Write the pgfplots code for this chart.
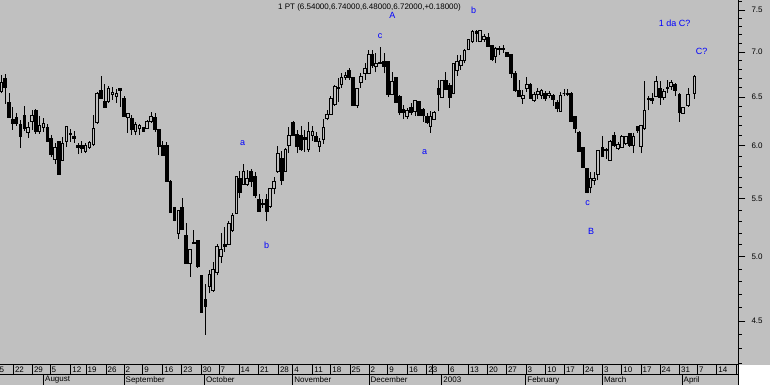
\documentclass[border=0pt]{standalone}
\usepackage{pgfplots}
\pgfplotsset{compat=1.18}
\usepackage{pgfplotstable}
\usepackage{fontspec}
\setmainfont{Liberation Sans}
\definecolor{bgc}{RGB}{192,192,192}
\definecolor{annot}{RGB}{0,0,255}
\newcommand{\smallf}{\fontsize{8bp}{9bp}\selectfont}
\newcommand{\annf}{\fontsize{9bp}{10bp}\selectfont}

% daily candles: x = position on the time axis, open, high, low, close
\pgfplotstableread{
x o h l c
1.3 6.56 6.74 6.54 6.66
5.1 6.70 6.75 6.43 6.60
9.0 6.44 6.54 6.29 6.29
12.8 6.27 6.40 6.16 6.22
16.6 6.29 6.33 6.20 6.22
20.5 6.21 6.26 5.98 6.09
24.3 6.31 6.41 6.15 6.17
28.1 6.13 6.24 6.08 6.18
32.0 6.24 6.36 6.16 6.31
35.8 6.36 6.37 6.12 6.14
39.6 6.14 6.30 6.12 6.20
43.5 6.18 6.28 6.14 6.22
47.3 6.18 6.22 6.04 6.04
51.1 6.07 6.11 5.89 5.92
55.0 5.87 6.03 5.82 5.98
58.8 6.04 6.05 5.72 5.72
62.6 5.86 6.09 5.86 6.02
66.5 6.04 6.19 5.99 6.19
70.3 6.12 6.17 6.04 6.11
74.1 6.09 6.15 6.03 6.07
78.0 6.00 6.03 5.92 5.98
81.8 6.00 6.05 5.93 5.97
85.6 5.94 6.03 5.93 6.00
89.5 5.98 6.05 5.97 6.03
93.3 6.01 6.31 6.00 6.17
97.1 6.23 6.55 6.22 6.54
101.0 6.57 6.73 6.49 6.49
104.8 6.45 6.64 6.39 6.39
108.6 6.45 6.62 6.44 6.59
112.5 6.53 6.61 6.47 6.55
116.3 6.51 6.59 6.44 6.54
120.1 6.59 6.59 6.40 6.57
124.0 6.48 6.51 6.30 6.30
127.9 6.29 6.33 6.13 6.33
131.7 6.28 6.31 6.11 6.16
135.6 6.14 6.24 6.11 6.21
139.5 6.17 6.22 6.11 6.20
143.4 6.18 6.19 6.14 6.14
147.2 6.17 6.26 6.17 6.24
151.1 6.24 6.34 6.23 6.30
155.0 6.29 6.33 6.14 6.16
158.9 6.16 6.16 5.91 5.99
162.8 6.00 6.05 5.91 5.91
166.7 6.00 6.04 5.66 5.66
170.6 5.66 5.67 5.38 5.38
174.5 5.42 5.43 5.30 5.31
178.3 5.20 5.40 5.15 5.40
182.2 5.42 5.51 5.23 5.23
186.1 5.18 5.29 4.95 4.95
190.0 4.95 5.06 4.84 5.06
193.8 5.12 5.23 5.11 5.11
197.7 5.14 5.14 4.91 4.92
201.6 4.85 4.85 4.56 4.56
205.5 4.66 4.78 4.40 4.61
209.4 4.76 4.89 4.71 4.86
213.2 4.73 4.96 4.72 4.90
217.1 4.87 5.11 4.85 5.09
221.0 5.00 5.20 4.95 5.06
224.9 5.10 5.25 5.04 5.09
228.8 5.10 5.30 5.10 5.28
232.6 5.22 5.37 5.21 5.35
236.5 5.37 5.71 5.37 5.71
239.7 5.69 5.76 5.51 5.56
243.3 5.63 5.82 5.63 5.75
247.0 5.63 5.77 5.62 5.69
251.0 5.75 5.78 5.61 5.66
255.0 5.71 5.75 5.51 5.53
259.0 5.49 5.54 5.39 5.39
262.7 5.46 5.50 5.42 5.45
266.7 5.49 5.54 5.30 5.39
270.0 5.43 5.60 5.42 5.59
274.0 5.59 5.70 5.54 5.66
277.7 5.75 6.00 5.74 5.93
281.7 5.88 5.95 5.63 5.67
285.3 5.75 5.98 5.75 5.96
288.7 6.00 6.19 5.93 6.10
293.0 6.23 6.25 6.10 6.10
297.0 6.11 6.16 5.93 5.99
301.0 6.10 6.20 5.95 5.96
304.7 6.08 6.16 5.94 6.06
308.3 5.96 6.24 5.94 6.14
312.3 6.10 6.20 6.05 6.14
316.0 6.09 6.14 6.04 6.04
319.3 5.99 6.08 5.94 6.04
323.3 6.06 6.27 6.02 6.18
327.0 6.28 6.36 6.26 6.32
330.7 6.32 6.51 6.31 6.49
334.7 6.42 6.63 6.41 6.61
338.0 6.60 6.71 6.45 6.59
341.3 6.64 6.76 6.60 6.71
345.3 6.71 6.77 6.69 6.74
349.0 6.79 6.82 6.69 6.71
353.0 6.71 6.71 6.41 6.41
357.0 6.41 6.60 6.39 6.59
360.7 6.66 6.76 6.60 6.72
365.0 6.76 6.88 6.69 6.81
368.7 6.76 7.02 6.76 6.97
372.0 6.97 7.02 6.82 6.85
375.7 6.83 6.99 6.77 6.87
380.0 6.88 7.06 6.87 6.87
384.0 6.89 6.99 6.76 6.83
388.0 6.89 6.90 6.50 6.53
392.0 6.53 6.77 6.52 6.67
396.0 6.71 6.71 6.44 6.44
399.7 6.51 6.52 6.31 6.34
403.5 6.37 6.42 6.27 6.34
407.0 6.30 6.38 6.27 6.36
411.0 6.39 6.44 6.31 6.34
415.0 6.35 6.47 6.30 6.46
418.7 6.45 6.46 6.30 6.31
423.0 6.37 6.38 6.24 6.31
427.0 6.30 6.33 6.22 6.23
430.3 6.19 6.35 6.13 6.30
434.0 6.27 6.35 6.26 6.34
438.3 6.59 6.69 6.35 6.53
442.0 6.50 6.69 6.49 6.68
445.7 6.68 6.77 6.58 6.58
449.7 6.63 6.65 6.39 6.50
453.3 6.54 6.88 6.53 6.87
457.0 6.79 6.97 6.73 6.89
460.7 6.85 6.96 6.80 6.90
464.3 6.90 7.03 6.87 7.02
468.3 7.03 7.15 7.02 7.14
472.3 7.12 7.26 7.11 7.24
476.3 7.24 7.26 7.12 7.22
480.0 7.12 7.26 7.12 7.25
484.0 7.15 7.21 7.12 7.18
488.0 7.17 7.22 7.06 7.06
492.0 7.08 7.08 6.90 6.91
495.5 6.95 7.06 6.87 7.04
499.0 7.04 7.07 6.97 7.03
503.0 7.03 7.08 6.99 7.04
507.0 6.99 7.00 6.94 6.95
511.0 6.97 6.97 6.71 6.76
515.0 6.76 6.78 6.56 6.57
519.0 6.57 6.69 6.50 6.51
522.7 6.49 6.58 6.43 6.52
526.7 6.59 6.72 6.56 6.64
530.5 6.64 6.65 6.49 6.49
534.0 6.46 6.56 6.45 6.53
537.7 6.53 6.60 6.48 6.56
541.5 6.52 6.59 6.48 6.57
545.0 6.54 6.57 6.46 6.49
549.0 6.52 6.57 6.49 6.54
553.0 6.52 6.53 6.41 6.47
557.0 6.44 6.47 6.34 6.38
560.5 6.35 6.56 6.35 6.52
564.0 6.54 6.59 6.51 6.54
567.5 6.54 6.59 6.51 6.53
571.0 6.54 6.55 6.24 6.24
575.0 6.30 6.30 6.13 6.17
579.0 6.13 6.15 5.94 5.94
583.0 5.98 5.99 5.79 5.79
587.0 5.78 5.78 5.55 5.56
590.5 5.60 5.75 5.55 5.69
594.0 5.67 5.75 5.63 5.69
597.8 5.72 5.96 5.67 5.95
602.5 5.98 6.10 5.90 5.90
606.0 5.96 5.98 5.87 5.95
610.0 5.86 6.06 5.86 6.04
614.0 6.10 6.14 5.99 6.00
618.0 5.97 6.04 5.96 6.01
621.7 5.98 6.11 5.98 6.09
625.7 6.02 6.10 6.01 6.09
629.7 6.12 6.13 5.99 6.00
633.3 6.00 6.13 5.93 6.09
637.5 6.19 6.20 6.13 6.15
641.0 5.99 6.20 5.93 6.20
644.5 6.17 6.67 6.16 6.36
648.3 6.49 6.51 6.36 6.47
652.0 6.48 6.54 6.43 6.46
656.0 6.51 6.73 6.50 6.67
660.0 6.59 6.67 6.42 6.50
663.7 6.50 6.59 6.47 6.56
667.3 6.60 6.69 6.54 6.59
671.0 6.61 6.69 6.58 6.66
675.0 6.64 6.65 6.51 6.57
679.3 6.53 6.54 6.24 6.34
683.0 6.33 6.40 6.33 6.39
688.0 6.41 6.60 6.40 6.53
694.3 6.54 6.74 6.48 6.72
}\candles

\begin{document}
\begin{tikzpicture}[
  wick/.style={black, line width=1bp},
  body/.style={draw=black, line width=1bp, line join=miter},
]
\fill[bgc] (0bp,0bp) rectangle (770bp,385bp);
\fill[white] (738.3bp,0bp) rectangle (770bp,20bp);

\begin{axis}[
  at={(0bp,20bp)}, anchor=south west,
  width=738.3bp, height=365bp, scale only axis,
  xmin=0, xmax=738.3,
  ymode=log, ymin=4.187, ymax=7.625,
  axis x line*=bottom, axis y line*=right,
  axis line style={-, black, line width=1bp},
  xtick=\empty,
  ytick={4.5,5,5.5,6,6.5,7,7.5},
  yticklabels={4.5,5.0,5.5,6.0,6.5,7.0,7.5},
  minor ytick={4.2,4.3,4.4,4.6,4.7,4.8,4.9,5.1,5.2,5.3,5.4,5.6,5.7,5.8,5.9,6.1,6.2,6.3,6.4,6.6,6.7,6.8,6.9,7.1,7.2,7.3,7.4,7.6},
  tick align=outside,
  major tick length=7bp, minor tick length=3.5bp,
  tick style={black, line width=1bp},
  yticklabel style={font=\smallf, anchor=west, inner sep=0pt, xshift=6bp},
]
\pgfplotstablegetrowsof{\candles}
\pgfmathtruncatemacro{\nlast}{\pgfplotsretval-1}
\pgfplotsforeachungrouped \i in {0,...,\nlast}{%
  \pgfplotstablegetelem{\i}{x}\of\candles \let\cx\pgfplotsretval
  \pgfplotstablegetelem{\i}{o}\of\candles \let\co\pgfplotsretval
  \pgfplotstablegetelem{\i}{h}\of\candles \let\ch\pgfplotsretval
  \pgfplotstablegetelem{\i}{l}\of\candles \let\cl\pgfplotsretval
  \pgfplotstablegetelem{\i}{c}\of\candles \let\cc\pgfplotsretval
  \pgfmathparse{\cc<\co}%
  \ifdim\pgfmathresult pt>0.5pt \def\fc{black}\else\def\fc{bgc}\fi
  \pgfmathsetmacro\xa{\cx-1.3}%
  \pgfmathsetmacro\xb{\cx+1.3}%
  \edef\doit{%
    \noexpand\addplot[wick] coordinates {(\cx,\cl) (\cx,\ch)};
    \noexpand\addplot[body, fill=\fc] coordinates {(\xa,\co) (\xb,\co) (\xb,\cc) (\xa,\cc)} -- cycle;
  }\doit
}
\end{axis}

% day row
\begin{axis}[
  at={(-10bp,10bp)}, anchor=south west,
  width=748.3bp, height=10bp, scale only axis,
  xmin=-10, xmax=738.3, ymin=0, ymax=1,
  axis line style={draw=none},
  ytick=\empty,
  xtick={-6.5,13.3,32.3,50,70.7,86,106,124,142.7,162.7,181.7,201,219,239,258.3,278.3,292.7,312.7,330.7,350,369,387.7,407.3,426.7,432.7,448.3,468.3,487.3,506.3,526,545.7,564.3,583.3,602.3,621.7,641,660,679.5,697.3,716.7,736},
  xticklabels={15,22,29,5,12,19,26,2,9,16,23,30,7,14,21,28,4,11,18,25,2,9,16,23,,6,13,20,27,3,10,17,24,3,10,17,24,31,7,14,},
  xtick style={draw=none},
  xmajorgrids, major grid style={black, line width=1bp},
  xticklabel style={font=\smallf, anchor=west, inner sep=0pt, xshift=1.5bp, yshift=5bp},
]
\addplot[draw=none, forget plot] coordinates {(0,0.5)};
\end{axis}

% month row
\begin{axis}[
  at={(0bp,0bp)}, anchor=south west,
  width=738.3bp, height=10bp, scale only axis,
  xmin=0, xmax=738.3, ymin=0, ymax=1,
  axis line style={draw=none},
  ytick=\empty,
  xtick={43.5,124,204.5,292.7,369,441.7,525.7,602.3,682},
  xticklabels={August,September,October,November,December,2003,February,March,April},
  xtick style={draw=none},
  xmajorgrids, major grid style={black, line width=1bp},
  xticklabel style={font=\smallf, anchor=west, inner sep=0pt, xshift=1.5bp, yshift=5bp},
]
\addplot[draw=none, forget plot] coordinates {(0,0.5)};
\end{axis}

\draw[line width=1bp] (0bp,10bp) -- (738.3bp,10bp);
\draw[line width=1bp] (738.3bp,0bp) -- (738.3bp,20bp);

\node[font=\smallf] at (369.5bp,378bp) {1 PT (6.54000,6.74000,6.48000,6.72000,+0.18000)};

\begin{scope}[every node/.style={text=annot, font=\annf, inner sep=0pt}]
\node at (242.7bp,241.7bp) {a};
\node at (266.7bp,140bp) {b};
\node at (380bp,349bp) {c};
\node at (392.3bp,370bp) {A};
\node at (424.7bp,232.7bp) {a};
\node at (473.7bp,375bp) {b};
\node at (587.7bp,181.7bp) {c};
\node at (591bp,153.3bp) {B};
\node at (674.7bp,361.7bp) {1 da C?};
\node at (701.7bp,333.3bp) {C?};
\end{scope}

\pgfresetboundingbox
\path[use as bounding box] (0bp,0bp) rectangle (770bp,385bp);
\end{tikzpicture}
\end{document}
